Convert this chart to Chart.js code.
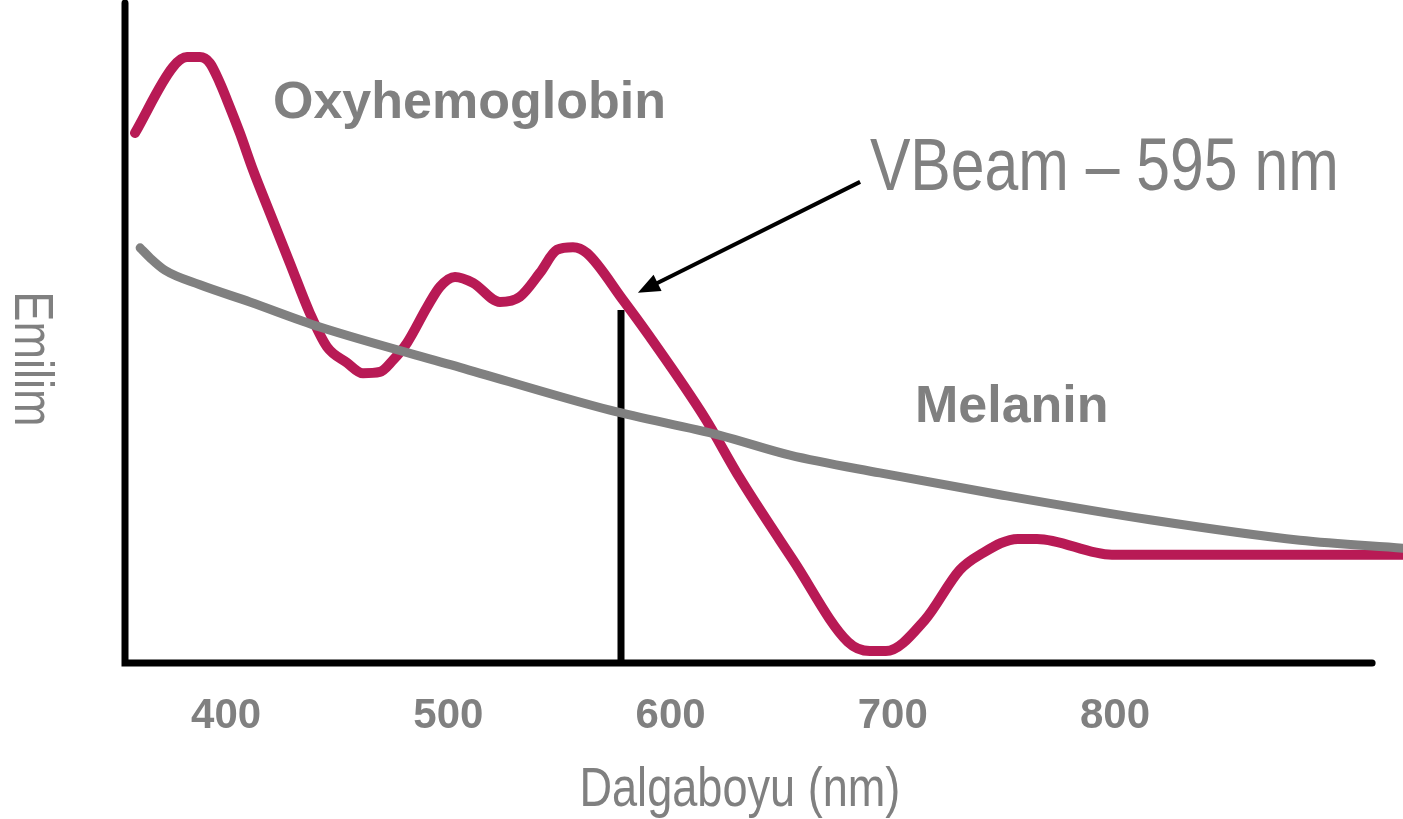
<!DOCTYPE html>
<html>
<head>
<meta charset="utf-8">
<script src="https://cdn.jsdelivr.net/npm/chart.js@4"></script>
<style>
  body { margin: 0; background: #fff; }
  #wrap { width: 1403px; height: 819px; }
</style>
</head>
<body>
<div id="wrap"><canvas id="chart"></canvas></div>
<script>
// wavelength (nm) / relative absorption
const oxyNm = [359, 376.1, 382.4, 388.2, 392.7, 397.2, 400.4, 406.2, 412.1, 419.7, 428.7, 437.7, 445.4, 454.4, 461.6, 469.2, 475.1, 481.4, 490.4, 496.2, 503, 511.1, 523.2, 532.2, 541.2, 548.9, 556.1, 562.4, 578.6, 590.7, 615.5, 631.2, 649.2, 655.1, 679.8, 689.7, 696.9, 714.4, 730.2, 739.2, 756.3, 764.9, 798.6, 929.6];
const oxyValues = [80.3, 90.3, 91.8, 91.8, 90.9, 87.9, 85.3, 80.3, 74.7, 68.2, 60.6, 53, 47.9, 45.5, 43.9, 44.1, 45.9, 48.5, 53.9, 57, 58.5, 57.6, 54.7, 55.5, 59.1, 62.6, 63, 62.1, 55, 49.4, 37.1, 28, 18.6, 15.6, 3.2, 1.8, 1.8, 6.5, 14.1, 16.4, 18.8, 18.8, 16.4, 16.4];

const melNm = [361.3, 365.7, 372.5, 388.2, 410.7, 442.2, 505.2, 572.7, 622.2, 653.7, 694.2, 748.2, 815.7, 883.2, 929.6];
const melValues = [62.9, 61.4, 59.5, 57.3, 54.7, 50.9, 44.8, 38.3, 34.5, 31.5, 28.8, 25.5, 21.7, 18.6, 17.4];

const laserNm = 577.7;
const laserTop = 53.5;

const xTicks = [400, 500, 600, 700, 800];

const xMin = 354.5, xMax = 929.6, xAxisEnd = 915.7;

const red = '#b81a55';
const grey = '#808080';
const sans = "'Liberation Sans', Arial, sans-serif";

// Arial Narrow look-alike: squeeze Liberation Sans horizontally
function narrowText(ctx, text, x, y, size, align) {
  ctx.save();
  ctx.translate(x, y);
  ctx.scale(0.82, 1);
  ctx.font = size + 'px ' + sans;
  ctx.textAlign = align;
  ctx.textBaseline = 'alphabetic';
  ctx.fillText(text, 0, 0);
  ctx.restore();
}

const xy = (xs, ys) => xs.map((x, i) => ({ x: x, y: ys[i] }));

const decor = {
  id: 'decor',
  afterDatasetsDraw(chart) {
    const ctx = chart.ctx;
    const a = chart.chartArea;
    const x = chart.scales.x, y = chart.scales.y;
    ctx.save();
    // axes
    ctx.strokeStyle = '#000';
    ctx.lineWidth = 7;
    ctx.lineCap = 'round';
    ctx.beginPath();
    ctx.moveTo(a.left, a.top);
    ctx.lineTo(a.left, a.bottom);
    ctx.lineTo(x.getPixelForValue(xAxisEnd), a.bottom);
    ctx.stroke();

    // arrow to the laser line
    const x0 = x.getPixelForValue(685.3), y0 = y.getPixelForValue(72.9);
    const x1 = x.getPixelForValue(585.3), y1 = y.getPixelForValue(56.1);
    const ang = Math.atan2(y1 - y0, x1 - x0);
    ctx.lineWidth = 4;
    ctx.lineCap = 'butt';
    ctx.beginPath();
    ctx.moveTo(x0, y0);
    ctx.lineTo(x1 - 14 * Math.cos(ang), y1 - 14 * Math.sin(ang));
    ctx.stroke();
    ctx.fillStyle = '#000';
    ctx.beginPath();
    ctx.moveTo(x1, y1);
    ctx.lineTo(x1 - 22 * Math.cos(ang) + 9 * Math.sin(ang), y1 - 22 * Math.sin(ang) - 9 * Math.cos(ang));
    ctx.lineTo(x1 - 22 * Math.cos(ang) - 9 * Math.sin(ang), y1 - 22 * Math.sin(ang) + 9 * Math.cos(ang));
    ctx.closePath();
    ctx.fill();

    // labels
    ctx.fillStyle = grey;
    ctx.textBaseline = 'alphabetic';
    ctx.textAlign = 'left';
    ctx.font = 'bold 52px ' + sans;
    ctx.fillText('Oxyhemoglobin', x.getPixelForValue(421.1), y.getPixelForValue(82.6));
    ctx.fillText('Melanin', x.getPixelForValue(710), y.getPixelForValue(36.5));
    narrowText(ctx, 'VBeam \u2013 595 nm', x.getPixelForValue(689.7), y.getPixelForValue(71.7), 74, 'left');

    // axis titles
    narrowText(ctx, 'Dalgaboyu (nm)', x.getPixelForValue(631.2), a.bottom + 143, 55, 'center');
    ctx.translate(15, (a.top + a.bottom) / 2 + 26);
    ctx.rotate(Math.PI / 2);
    narrowText(ctx, 'Emilim', 0, 0, 55, 'center');
    ctx.restore();
  }
};

new Chart(document.getElementById('chart'), {
  type: 'line',
  data: {
    datasets: [
      { label: 'Melanin', data: xy(melNm, melValues), borderColor: grey, borderWidth: 9, cubicInterpolationMode: 'monotone' },
      { label: 'Oxyhemoglobin', data: xy(oxyNm, oxyValues), borderColor: red, borderWidth: 10, cubicInterpolationMode: 'monotone' },
      { label: 'VBeam', data: xy([laserNm, laserNm], [0, laserTop]), borderColor: '#000', borderWidth: 7, borderCapStyle: 'butt' }
    ]
  },
  options: {
    responsive: true,
    maintainAspectRatio: false,
    animation: false,
    layout: { padding: { left: 125, right: 0, top: 3, bottom: 0 } },
    elements: {
      point: { radius: 0 },
      line: { borderCapStyle: 'round', borderJoinStyle: 'round' }
    },
    plugins: { legend: { display: false }, tooltip: { enabled: false } },
    scales: {
      x: {
        type: 'linear',
        min: xMin,
        max: xMax,
        afterBuildTicks: s => { s.ticks = xTicks.map(v => ({ value: v })); },
        afterFit: s => { s.height = 156; },
        grid: { display: false, drawTicks: false },
        border: { display: false },
        ticks: {
          padding: 28,
          maxRotation: 0,
          color: grey,
          font: { family: sans, size: 42, weight: 'bold' }
        }
      },
      y: { min: 0, max: 100, display: false }
    }
  },
  plugins: [decor]
});
</script>
</body>
</html>
